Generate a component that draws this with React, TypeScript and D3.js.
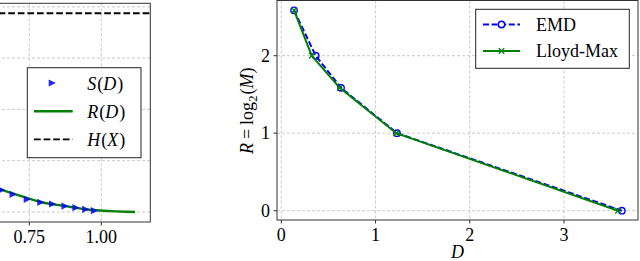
import React from "react";
import * as d3 from "d3";

// Left panel (cropped): S(D) markers, R(D) curve, H(X) line
const sD = [0.654, 0.694, 0.743, 0.79, 0.831, 0.874, 0.912, 0.946, 0.976];
const sR = [0.214, 0.1725, 0.124, 0.0945, 0.078, 0.058, 0.042, 0.026, 0.013];
const rD = [0.55, 0.6, 0.648, 0.7, 0.752, 0.8, 0.854, 0.9, 0.95, 0.995, 1.03, 1.064, 1.09, 1.117];
const rR = [0.32, 0.265, 0.222, 0.175, 0.127, 0.09, 0.067, 0.046, 0.025, 0.014, 0.009, 0.005, 0.002, 0.0];
const hX = 1.937;
const leftGridX = [0.5, 0.75, 1.0];
const leftXTicks = [0.75, 1.0];
const leftYTicks = [0, 0.5, 1, 1.5, 2];
const leftLegend = [
  { name: "S", arg: "D", kind: "marker" },
  { name: "R", arg: "D", kind: "line" },
  { name: "H", arg: "X", kind: "dash" },
];

// Right panel: EMD vs Lloyd-Max
const emdD = [0.135, 0.365, 0.634, 1.228, 3.614];
const emdR = [2.585, 2, 1.585, 1, 0];
const lmD = [0.135, 0.323, 0.62, 1.22, 3.574];
const lmR = [2.585, 2, 1.585, 1, 0];
const rightXTicks = [0, 1, 2, 3];
const rightYTicks = [0, 1, 2];
const rightLegend = ["EMD", "Lloyd-Max"];

const FONT = "Liberation Serif";
const BLUE = "#0000ff";
const GREEN = "#008000";
const GRID = "#c4c4c4";

export default function App() {
  const L = { x0: -203, x1: 150.3, y0: 3.3, y1: 222 };
  const lx = d3.scaleLinear().domain([0.75, 1.0]).range([29.3, 101.3]);
  const ly = d3.scaleLinear().domain([0, 0.5]).range([212, 160.7]);

  const R = { x0: 277, x1: 638, y0: 0.5, y1: 220 };
  const rx = d3.scaleLinear().domain([0, 3]).range([281.3, 564]);
  const ry = d3.scaleLinear().domain([0, 2]).range([210.7, 55.7]);

  const curveL = d3
    .line<number>()
    .x((_, i) => lx(rD[i]))
    .y((d) => ly(d))
    .curve(d3.curveMonotoneX);
  const emdLine = d3
    .line<number>()
    .x((_, i) => rx(emdD[i]))
    .y((d) => ry(d));
  const lmLine = d3
    .line<number>()
    .x((_, i) => rx(lmD[i]))
    .y((d) => ry(d));

  const tri = (x: number, y: number, s = 3.6) =>
    `M${x - s},${y - s}L${x + s},${y}L${x - s},${y + s}Z`;
  const xMark = (x: number, y: number, s = 2.8) =>
    `M${x - s},${y - s}L${x + s},${y + s}M${x - s},${y + s}L${x + s},${y - s}`;

  const fs = 18;

  return (
    <div style={{ position: "fixed", left: 0, top: 0 }}>
      <svg width={640} height={261} style={{ display: "block", background: "#fff" }}>
        <defs>
          <clipPath id="clipL">
            <rect x={L.x0} y={L.y0} width={L.x1 - L.x0} height={L.y1 - L.y0} />
          </clipPath>
          <clipPath id="clipR">
            <rect x={R.x0} y={R.y0} width={R.x1 - R.x0} height={R.y1 - R.y0} />
          </clipPath>
        </defs>
        {/* ===== LEFT PANEL ===== */}
        <g clipPath="url(#clipL)">
          {leftGridX.map((t) => (
            <line key={"lgx" + t} x1={lx(t)} x2={lx(t)} y1={L.y0} y2={L.y1} stroke={GRID} strokeWidth={0.9} strokeDasharray="3,2" />
          ))}
          {leftYTicks.map((t) => (
            <line key={"lgy" + t} x1={L.x0} x2={L.x1} y1={ly(t)} y2={ly(t)} stroke={GRID} strokeWidth={0.9} strokeDasharray="3,2" />
          ))}
          <line x1={L.x0} x2={L.x1} y1={ly(hX)} y2={ly(hX)} stroke="#000" strokeWidth={1.9} strokeDasharray="6.7,2.9" />
          <path d={curveL(rR) || ""} fill="none" stroke={GREEN} strokeWidth={2.4} />
          {sD.map((d, i) => (
            <path key={"s" + i} d={tri(lx(d), ly(sR[i]))} fill={BLUE} fillOpacity={0.85} />
          ))}
        </g>
        <rect x={L.x0} y={L.y0} width={L.x1 - L.x0} height={L.y1 - L.y0} fill="none" stroke="#333" strokeWidth={1} />
        {leftXTicks.map((t) => (
          <g key={"ltx" + t}>
            <line x1={lx(t)} x2={lx(t)} y1={L.y1} y2={L.y1 + 3.5} stroke="#333" strokeWidth={1} />
            <text x={lx(t)} y={242.5} fontFamily={FONT} fontSize={fs} textAnchor="middle">
              {d3.format(".2f")(t)}
            </text>
          </g>
        ))}
        {/* left legend */}
        <rect x={27.3} y={67.7} width={113.7} height={90} fill="#fff" stroke="#222" strokeWidth={1} />
        {leftLegend.map((e, i) => {
          const cy = 83 + i * 28.2;
          return (
            <g key={"ll" + i}>
              {e.kind === "marker" && <path d={tri(52.3, cy)} fill={BLUE} fillOpacity={0.85} />}
              {e.kind === "line" && <line x1={34} x2={72.7} y1={cy} y2={cy} stroke={GREEN} strokeWidth={2.4} />}
              {e.kind === "dash" && (
                <line x1={34} x2={72.7} y1={cy} y2={cy} stroke="#000" strokeWidth={1.9} strokeDasharray="6.7,2.9" />
              )}
              <text x={87.3} y={cy + 6.5} fontFamily={FONT} fontSize={fs}>
                <tspan fontStyle="italic">{e.name}</tspan>
                <tspan dx={1}>(</tspan>
                <tspan fontStyle="italic">{e.arg}</tspan>
                <tspan dx={1}>)</tspan>
              </text>
            </g>
          );
        })}

        {/* ===== RIGHT PANEL ===== */}
        <g clipPath="url(#clipR)">
          {rightXTicks.map((t) => (
            <line key={"rgx" + t} x1={rx(t)} x2={rx(t)} y1={R.y0} y2={R.y1} stroke={GRID} strokeWidth={0.9} strokeDasharray="3,2" />
          ))}
          {rightYTicks.map((t) => (
            <line key={"rgy" + t} x1={R.x0} x2={R.x1} y1={ry(t)} y2={ry(t)} stroke={GRID} strokeWidth={0.9} strokeDasharray="3,2" />
          ))}
          <path d={emdLine(emdR) || ""} fill="none" stroke={BLUE} strokeWidth={2} strokeDasharray="6,2.6" />
          {emdD.map((d, i) => (
            <circle key={"e" + i} cx={rx(d)} cy={ry(emdR[i])} r={3.2} fill="none" stroke={BLUE} strokeWidth={1.4} />
          ))}
          <path d={lmLine(lmR) || ""} fill="none" stroke={GREEN} strokeWidth={2} />
          {lmD.map((d, i) => (
            <path key={"m" + i} d={xMark(rx(d), ry(lmR[i]))} fill="none" stroke={GREEN} strokeWidth={1.3} />
          ))}
        </g>
        <rect x={R.x0} y={R.y0} width={R.x1 - R.x0} height={R.y1 - R.y0} fill="none" stroke="#333" strokeWidth={1} />
        {rightXTicks.map((t) => (
          <g key={"rtx" + t}>
            <line x1={rx(t)} x2={rx(t)} y1={R.y1} y2={R.y1 + 3.5} stroke="#333" strokeWidth={1} />
            <text x={rx(t)} y={240.5} fontFamily={FONT} fontSize={fs} textAnchor="middle">
              {t}
            </text>
          </g>
        ))}
        {rightYTicks.map((t) => (
          <g key={"rty" + t}>
            <line x1={R.x0 - 3.5} x2={R.x0} y1={ry(t)} y2={ry(t)} stroke="#333" strokeWidth={1} />
            <text x={270} y={ry(t) + 6} fontFamily={FONT} fontSize={fs} textAnchor="end">
              {t}
            </text>
          </g>
        ))}
        <text x={457.5} y={257.5} fontFamily={FONT} fontSize={fs} fontStyle="italic" textAnchor="middle">
          D
        </text>
        <text transform={`translate(252.5,110.8) rotate(-90)`} fontFamily={FONT} fontSize={fs} textAnchor="middle">
          <tspan fontStyle="italic">R</tspan>
          <tspan dx={4}>=</tspan>
          <tspan dx={4}>log</tspan>
          <tspan fontSize={12.6} dy={4}>2</tspan>
          <tspan dy={-4} dx={1}>(</tspan>
          <tspan fontStyle="italic">M</tspan>
          <tspan>)</tspan>
        </text>
        {/* right legend */}
        <rect x={475.7} y={9.3} width={153.6} height={59} fill="#fff" stroke="#222" strokeWidth={1} />
        {rightLegend.map((name, i) => {
          const cy = 24.5 + i * 26.5;
          return (
            <g key={"rl" + i}>
              {i === 0 ? (
                <>
                  <line x1={483} x2={520} y1={cy} y2={cy} stroke={BLUE} strokeWidth={2} strokeDasharray="6,2.6" />
                  <circle cx={501.5} cy={cy} r={3.2} fill="#fff" stroke={BLUE} strokeWidth={1.4} />
                </>
              ) : (
                <>
                  <line x1={483} x2={520} y1={cy} y2={cy} stroke={GREEN} strokeWidth={2} />
                  <path d={xMark(501.5, cy)} stroke={GREEN} strokeWidth={1.3} />
                </>
              )}
              <text x={536} y={cy + 6} fontFamily={FONT} fontSize={fs}>
                {name}
              </text>
            </g>
          );
        })}
      </svg>
    </div>
  );
}
